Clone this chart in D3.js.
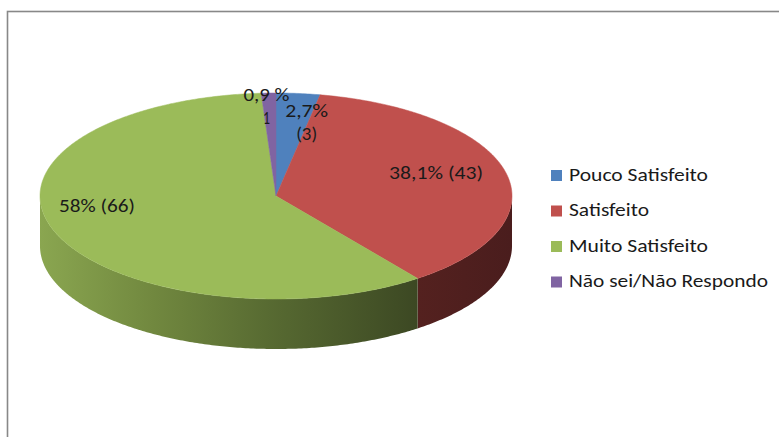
<!DOCTYPE html>
<html><head><meta charset="utf-8">
<script src="https://cdn.jsdelivr.net/npm/d3@7/dist/d3.min.js"></script>
<style>body{margin:0;background:#fff}svg{display:block}</style>
</head><body>
<svg id="c" width="779" height="437"></svg>
<script>
const categories = ["Pouco Satisfeito","Satisfeito","Muito Satisfeito","Não sei/Não Respondo"];
const counts = [3, 43, 66, 1];
const pctLabels = ["2,7%","38,1%","58%","0,9 %"];
const countLabels = ["(3)","(43)","(66)","1"];

const topColors = ["#4F81BD","#C0504D","#9BBB59","#8064A2"];
const wallStops = [
  [["0%","#2f4d72"],["100%","#27405f"]],
  [["0%","#54211f"],["100%","#4a1d1d"]],
  [["0%","#8aa650"],["30%","#71883f"],["60%","#586b32"],["100%","#3c4823"]],
  [["0%","#4d3c62"],["100%","#4d3c62"]]
];

const svg = d3.select("#c");
const font = "Carlito, Lato, 'Open Sans', sans-serif";

// frame
svg.append("rect").attr("x",7.5).attr("y",11.5).attr("width",900).attr("height",600)
  .attr("fill","none").attr("stroke","#888").attr("stroke-width",1.6);

const cx = 276, cy = 196, rx = 236, ry = 103, depth = 50;
const ex = d3.scaleLinear().domain([-1,1]).range([cx-rx, cx+rx]);
const ey = d3.scaleLinear().domain([-1,1]).range([cy-ry, cy+ry]);
// mild perspective warp of angles (front half looks compressed sideways)
const warp = t => t + 0.065*Math.sin(2*t);
const P = (t,k=1) => { const w = warp(t); return [ex(k*Math.sin(w)), ey(-k*Math.cos(w))]; };

const pie = d3.pie().sort(null).value(d=>d).startAngle(0).endAngle(2*Math.PI);
const arcs = pie(counts);

const defs = svg.append("defs");
arcs.forEach((a,i)=>{
  const s = Math.max(a.startAngle, Math.PI/2), e = Math.min(a.endAngle, 3*Math.PI/2);
  const x0 = s<e ? P(e)[0] : cx-rx, x1 = s<e ? P(s)[0] : cx+rx;
  const g = defs.append("linearGradient").attr("id","w"+i)
    .attr("gradientUnits","userSpaceOnUse")
    .attr("x1",Math.min(x0,x1)).attr("x2",Math.max(x0,x1)).attr("y1",0).attr("y2",0);
  wallStops[i].forEach(st=>g.append("stop").attr("offset",st[0]).attr("stop-color",st[1]));
});

function arcPts(a0,a1,dy){
  const n = Math.max(2, Math.ceil(Math.abs(a1-a0)/0.01));
  const pts=[];
  for(let j=0;j<=n;j++){const t=a0+(a1-a0)*j/n; const p=P(t); pts.push([p[0],p[1]+dy]);}
  return pts;
}
const line = d3.line();

// walls
arcs.forEach((a,i)=>{
  const s = Math.max(a.startAngle, Math.PI/2), e = Math.min(a.endAngle, 3*Math.PI/2);
  if(s>=e) return;
  const pts = arcPts(s,e,0).concat(arcPts(e,s,depth));
  svg.append("path").attr("d", line(pts)+"Z").attr("fill","url(#w"+i+")");
});

// tops
arcs.forEach((a,i)=>{
  const pts = [[cx,cy]].concat(arcPts(a.startAngle,a.endAngle,0));
  svg.append("path").attr("d", line(pts)+"Z").attr("fill",topColors[i])
    .attr("stroke",topColors[i]).attr("stroke-width",0.5);
});

// labels
const labelLayout = [
  {k:0.75, dx:14, dy:3, two:true, w:[43,21]},
  {k:0.75, dx:-14, dy:-9, two:false, w:[94]},
  {k:0.75, dx:-9, dy:-11, two:false, w:[76]},
  {k:0.75, dx:-4, dy:-13, two:true, w:[46,7]}
];
const fs = 19;
arcs.forEach((a,i)=>{
  const mid = (a.startAngle+a.endAngle)/2;
  const L = labelLayout[i];
  const p = P(mid, L.k);
  const x = p[0]+L.dx, y = p[1]+L.dy;
  const mk = (txt, yy, w) => svg.append("text").attr("text-anchor","middle")
    .attr("font-family",font).attr("font-size",fs).attr("fill","#1a1a1a")
    .attr("x",x).attr("y",yy).attr("textLength",w).attr("lengthAdjust","spacingAndGlyphs").text(txt);
  if(L.two){
    mk(pctLabels[i], y-11+6, L.w[0]);
    mk(countLabels[i], y+12+6, L.w[1]);
  } else {
    mk(pctLabels[i]+" "+countLabels[i], y+6, L.w[0]);
  }
});

// legend
const legendW = [139, 80, 139, 199];
const ly = d3.scalePoint().domain(categories).range([175.5, 282]);
const leg = svg.append("g");
categories.forEach((c,i)=>{
  leg.append("rect").attr("x",551).attr("y",ly(c)-5.5).attr("width",11).attr("height",11).attr("fill",topColors[i]);
  leg.append("text").attr("x",569).attr("y",ly(c)+5).attr("font-family",font).attr("font-size",fs)
    .attr("textLength",legendW[i]).attr("lengthAdjust","spacingAndGlyphs")
    .attr("fill","#1a1a1a").text(c);
});
</script>
</body></html>
